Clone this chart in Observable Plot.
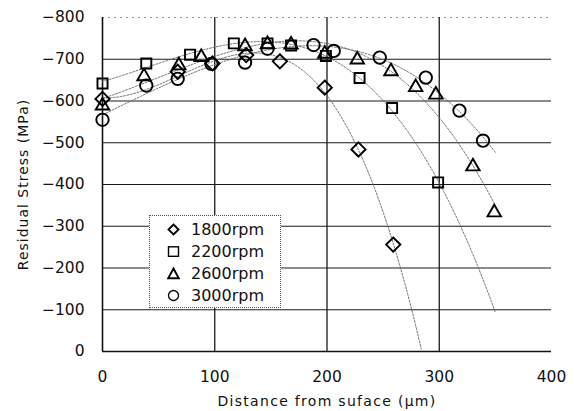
<!DOCTYPE html>
<html>
<head>
<meta charset="utf-8">
<script src="https://cdn.jsdelivr.net/npm/d3@7"></script>
<script src="https://cdn.jsdelivr.net/npm/@observablehq/plot@0.6"></script>
<style>
  html, body { margin: 0; padding: 0; background: #fff; }
  #wrap { position: relative; width: 574px; height: 411px; font-family: "DejaVu Sans", "Liberation Sans", Arial, sans-serif; }
  #legend { position: absolute; left: 149px; top: 215px; width: 132px; height: 93px; border: 1px dotted #555; background: #fff; box-sizing: border-box; }
  .row { position: absolute; left: 0; height: 22px; display: flex; align-items: center; font-size: 16px; color: #111; }
  .row svg { margin-left: 17px; margin-right: 11px; }
</style>
</head>
<body>
<div id="wrap"></div>
<script>
// ---- data ----
const series = ["1800rpm", "2200rpm", "2600rpm", "3000rpm"];
const symbols = ["diamond2", "square2", "triangle2", "circle"];

const dist1800 = [0, 67, 98, 128, 158, 198, 228, 259];
const stress1800 = [-605, -670, -690, -710, -695, -632, -484, -256];

const dist2200 = [0, 39, 78, 117, 147, 168, 199, 229, 258, 299];
const stress2200 = [-642, -690, -711, -738, -738, -733, -708, -655, -583, -405];

const dist2600 = [0, 37, 68, 88, 127, 147, 168, 198, 227, 257, 279, 297, 330, 349];
const stress2600 = [-589, -659, -685, -705, -731, -736, -735, -713, -699, -671, -633, -615, -443, -333];

const dist3000 = [0, 39, 67, 97, 127, 147, 188, 206, 247, 288, 318, 339];
const stress3000 = [-555, -637, -653, -689, -692, -725, -734, -720, -704, -656, -577, -505];

const xTicks = [0, 100, 200, 300, 400];
const yTicks = [0, -100, -200, -300, -400, -500, -600, -700, -800];

// ---- build rows ----
const dists = [dist1800, dist2200, dist2600, dist3000];
const stresses = [stress1800, stress2200, stress2600, stress3000];
const points = [];
series.forEach((s, i) => dists[i].forEach((d, j) => points.push({series: s, x: d, y: stresses[i][j]})));

// polynomial (cubic) least-squares trend line per series, as in the original spreadsheet trendlines
function polyfit(xs, ys, deg) {
  const n = deg + 1;
  const A = Array.from({length: n}, () => new Array(n + 1).fill(0));
  for (let k = 0; k < xs.length; k++) {
    const p = [];
    for (let i = 0; i < n; i++) p.push(Math.pow(xs[k], i));
    for (let i = 0; i < n; i++) {
      for (let j = 0; j < n; j++) A[i][j] += p[i] * p[j];
      A[i][n] += p[i] * ys[k];
    }
  }
  for (let c = 0; c < n; c++) {
    let m = c;
    for (let r = c + 1; r < n; r++) if (Math.abs(A[r][c]) > Math.abs(A[m][c])) m = r;
    [A[c], A[m]] = [A[m], A[c]];
    for (let r = 0; r < n; r++) {
      if (r === c) continue;
      const f = A[r][c] / A[c][c];
      for (let j = c; j <= n; j++) A[r][j] -= f * A[c][j];
    }
  }
  return A.map((row, i) => row[n] / row[i]);
}
const trend = [];
series.forEach((s, i) => {
  const co = polyfit(dists[i], stresses[i], 3);
  for (let x = 0; x <= 350; x += 2) {
    const y = co.reduce((acc, c, k) => acc + c * Math.pow(x, k), 0);
    if (y <= 0) trend.push({series: s, x, y});
  }
});

const plot = Plot.plot({
  width: 574,
  height: 411,
  marginLeft: 102,
  marginRight: 23,
  marginTop: 17,
  marginBottom: 60,
  style: {fontFamily: "'DejaVu Sans', 'Liberation Sans', Arial, sans-serif", fontSize: "14px", color: "#111", background: "#fff"},
  x: {domain: [0, 400]},
  y: {domain: [0, -800]},
  marks: [
    Plot.gridY(yTicks.filter(d => d !== 0 && d !== -800), {stroke: "#1a1a1a", strokeOpacity: 1, strokeWidth: 1.1}),
    Plot.gridY([-800], {stroke: "#999", strokeOpacity: 1, strokeWidth: 1, strokeDasharray: "2,4"}),
    Plot.gridX(xTicks.filter(d => d !== 0 && d !== 400), {stroke: "#1a1a1a", strokeOpacity: 1, strokeWidth: 1.3}),
    Plot.ruleX([0], {stroke: "#111", strokeWidth: 1.6}),
    Plot.ruleY([0], {stroke: "#111", strokeWidth: 1.3}),
    Plot.axisY(yTicks, {tickSize: 0, tickPadding: 18, label: "Residual Stress (MPa)", labelAnchor: "center", labelOffset: 84, labelArrow: "none", fontSize: 15.5}),
    Plot.axisX(xTicks, {tickSize: 0, tickPadding: 19, label: "Distance from suface (µm)", labelAnchor: "center", labelOffset: 54, labelArrow: "none", fontSize: 15.5}),
    Plot.line(trend, {x: "x", y: "y", z: "series", stroke: "#666", strokeWidth: 0.9, strokeDasharray: "2,1.5"}),
    ...series.map((s, i) => Plot.dot(points.filter(p => p.series === s), {
      x: "x", y: "y", symbol: () => symbols[i], r: i === 3 ? 6.2 : 6.4, stroke: "#000", strokeWidth: 1.9, fill: "none"
    }))
  ]
});
document.getElementById("wrap").appendChild(plot);
d3.select(plot).selectAll('[aria-label="x-axis label"] text').style("letter-spacing", "1.3px").style("font-size", "14px");
d3.select(plot).selectAll('[aria-label="y-axis label"] text').style("letter-spacing", "1px").style("font-size", "14px");

// legend (inside the plotting area, as in the original)
const legend = document.createElement("div");
legend.id = "legend";
const shapes = {
  diamond2: '<path d="M6.5,1.5 L11.5,6.5 L6.5,11.5 L1.5,6.5 Z" fill="none" stroke="#000" stroke-width="1.9"/>',
  square2: '<rect x="1.5" y="1.8" width="10" height="9.5" fill="none" stroke="#000" stroke-width="1.4"/>',
  triangle2: '<path d="M6.5,1.5 L11.8,11.3 L1.2,11.3 Z" fill="none" stroke="#000" stroke-width="1.9"/>',
  circle: '<circle cx="6.5" cy="6.5" r="5" fill="none" stroke="#000" stroke-width="1.3"/>'
};
series.forEach((s, i) => {
  const row = document.createElement("div");
  row.className = "row";
  row.style.top = (2 + i * 22) + "px";
  row.innerHTML = `<svg width="13" height="13" viewBox="0 0 13 13">${shapes[symbols[i]]}</svg><span>${s}</span>`;
  legend.appendChild(row);
});
document.getElementById("wrap").appendChild(legend);
</script>
</body>
</html>
